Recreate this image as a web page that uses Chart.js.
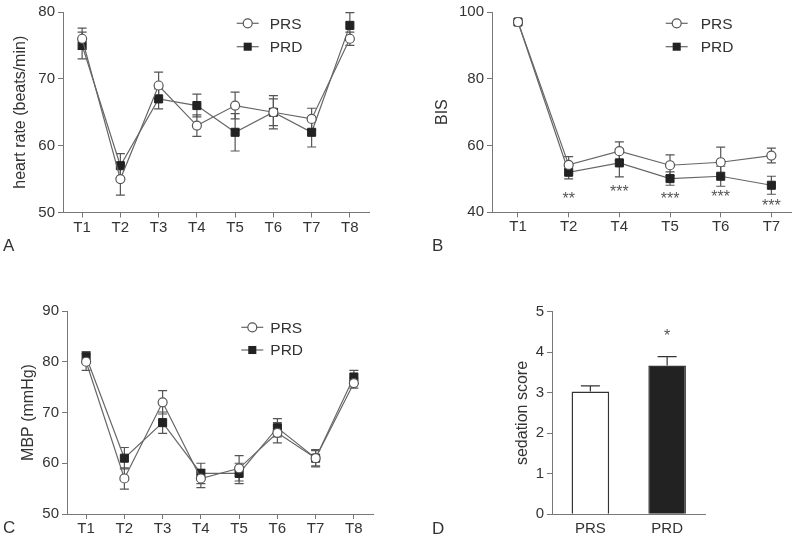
<!DOCTYPE html>
<html>
<head>
<meta charset="utf-8">
<script src="https://cdn.jsdelivr.net/npm/chart.js@4.4.0/dist/chart.umd.min.js"></script>
<style>
html, body { margin: 0; padding: 0; background: #fff; }
#wrap { position: relative; width: 800px; height: 537px; overflow: hidden; }
#wrap canvas { position: absolute; }
.tag { position: absolute; font: 17px 'Liberation Sans', Arial, sans-serif; color: #333; }
</style>
</head>
<body>
<div id="wrap">
  <canvas id="hr" width="400" height="268" style="left:0;top:0"></canvas>
  <canvas id="bis" width="400" height="268" style="left:400px;top:0"></canvas>
  <canvas id="mbp" width="400" height="280" style="left:0;top:268px"></canvas>
  <canvas id="sed" width="400" height="280" style="left:400px;top:268px"></canvas>
  <div class="tag" style="left:3px;top:236px">A</div>
  <div class="tag" style="left:432px;top:236px">B</div>
  <div class="tag" style="left:3px;top:518px">C</div>
  <div class="tag" style="left:432px;top:519px">D</div>
</div>
<script>
// A - heart rate
const hrLabels = ['T1', 'T2', 'T3', 'T4', 'T5', 'T6', 'T7', 'T8'];
const hrPRS = [76, 55, 69, 63, 66, 65, 64, 76];
const hrPRSErr = [1.6, 2.4, 2.0, 1.6, 2.0, 2.5, 1.6, 1.0];
const hrPRD = [75, 57, 67, 66, 62, 65, 62, 78];
const hrPRDErr = [2.0, 1.8, 1.5, 1.7, 2.8, 2.0, 2.2, 1.9];

// B - BIS
const bisLabels = ['T1', 'T2', 'T4', 'T5', 'T6', 'T7'];
const bisPRS = [97, 54.2, 58.3, 54.1, 55, 57];
const bisPRSErr = [0.4, 2.5, 2.8, 3.1, 4.5, 2.2];
const bisPRD = [97, 52, 54.8, 50.1, 50.8, 48.1];
const bisPRDErr = [0.4, 2.0, 4.2, 2.0, 3.0, 2.7];
const bisStars = ['', '**', '***', '***', '***', '***'];
const bisStarY = [null, 44.6, 46.8, 44.6, 45.3, 42.5];

// C - MBP
const mbpLabels = ['T1', 'T2', 'T3', 'T4', 'T5', 'T6', 'T7', 'T8'];
const mbpPRS = [80, 57, 72, 57, 59, 66, 61, 75.8];
const mbpPRSErr = [1.7, 2.1, 2.3, 1.8, 2.5, 2.0, 1.7, 1.0];
const mbpPRD = [81, 61, 68, 58, 58, 67, 61, 77];
const mbpPRDErr = [1.0, 2.1, 2.1, 2.0, 2.0, 1.8, 1.5, 1.3];

// D - sedation score
const sedLabels = ['PRS', 'PRD'];
const sedValues = [3.03, 3.67];
const sedErr = [0.14, 0.22];
const sedStars = ['', '*'];
const sedStarY = [null, 4.47];

const FONT = "'Liberation Sans', Arial, sans-serif";
Chart.defaults.font.family = FONT;
Chart.defaults.font.size = 15;
Chart.defaults.color = '#333';
Chart.defaults.animation = false;

const AXIS = '#777';

const drawMarker = (ctx, ds, x, y) => {
  ctx.save();
  ctx.lineWidth = ds.pointBorderWidth;
  ctx.strokeStyle = ds.pointBorderColor;
  ctx.fillStyle = ds.pointBackgroundColor;
  if (ds.pointStyle === 'rect') {
    const h = ds.pointRadius * Math.SQRT1_2;
    ctx.fillRect(x - h, y - h, 2 * h, 2 * h);
  } else {
    ctx.beginPath();
    ctx.arc(x, y, ds.pointRadius, 0, Math.PI * 2);
    ctx.fill();
    ctx.stroke();
  }
  ctx.restore();
};

const markerLegend = {
  id: 'markerLegend',
  afterDraw(chart, args, o) {
    if (!o.x) return;
    const ctx = chart.ctx;
    chart.data.datasets.forEach((ds, i) => {
      const y = o.y + i * o.gap;
      ctx.save();
      ctx.strokeStyle = ds.borderColor;
      ctx.lineWidth = ds.borderWidth;
      ctx.beginPath();
      ctx.moveTo(o.x - 11, y);
      ctx.lineTo(o.x + 11, y);
      ctx.stroke();
      drawMarker(ctx, ds, o.x, y);
      ctx.fillStyle = '#333';
      ctx.font = '15.5px ' + FONT;
      ctx.textBaseline = 'middle';
      ctx.fillText(ds.label, o.x + 11 + o.textGap, y + 1);
      ctx.restore();
    });
  }
};

const drawErrors = (chart, o) => {
  const ctx = chart.ctx;
  const ys = chart.scales.y;
  chart.data.datasets.forEach((ds, i) => {
    if (!ds.errors) return;
    const meta = chart.getDatasetMeta(i);
    meta.data.forEach((el, j) => {
      const raw = ds.data[j];
      const v = typeof raw === 'object' ? raw.y : raw;
      const e = ds.errors[j];
      const top = ys.getPixelForValue(v + e);
      const bot = o.upOnly ? ys.getPixelForValue(v) : ys.getPixelForValue(v - e);
      ctx.save();
      ctx.strokeStyle = o.color;
      ctx.lineWidth = 1.2;
      ctx.beginPath();
      ctx.moveTo(el.x, top);
      ctx.lineTo(el.x, bot);
      ctx.moveTo(el.x - o.cap, top);
      ctx.lineTo(el.x + o.cap, top);
      if (!o.upOnly) {
        ctx.moveTo(el.x - o.cap, bot);
        ctx.lineTo(el.x + o.cap, bot);
      }
      ctx.stroke();
      ctx.restore();
    });
  });
};

const errorBars = {
  id: 'errorBars',
  beforeDatasetsDraw(chart, args, o) { if (!o.above) drawErrors(chart, o); },
  afterDatasetsDraw(chart, args, o) { if (o.above) drawErrors(chart, o); }
};

const stars = {
  id: 'stars',
  afterDatasetsDraw(chart, args, o) {
    if (!o.text) return;
    const ctx = chart.ctx;
    ctx.save();
    ctx.fillStyle = '#555';
    ctx.font = '16px ' + FONT;
    ctx.textAlign = 'center';
    ctx.textBaseline = 'middle';
    o.text.forEach((t, i) => {
      if (!t) return;
      ctx.fillText(t, chart.scales.x.getPixelForValue(i), chart.scales.y.getPixelForValue(o.y[i]) + 3);
    });
    ctx.restore();
  }
};

const prsStyle = {
  borderColor: '#666', borderWidth: 1.2,
  pointStyle: 'circle', pointRadius: 4.5,
  pointBackgroundColor: '#fff', pointBorderColor: '#555', pointBorderWidth: 1.2,
  tension: 0, fill: false
};
const prdStyle = {
  borderColor: '#666', borderWidth: 1.2,
  pointStyle: 'rect', pointRadius: 5.7,
  pointBackgroundColor: '#222', pointBorderColor: '#222', pointBorderWidth: 1,
  tension: 0, fill: false
};

const yAxis = (min, max, step, title, width, titlePad) => ({
  min: min, max: max,
  ticks: { stepSize: step, padding: 3, color: '#333' },
  grid: { drawOnChartArea: false, tickLength: 5, color: AXIS, lineWidth: 1 },
  border: { color: AXIS, width: 1 },
  title: { display: true, text: title, font: { size: 16 }, color: '#333', padding: { top: titlePad, bottom: 0 } },
  afterFit: (s) => { s.width = width; }
});

const xCat = (height) => ({
  type: 'category',
  offset: true,
  ticks: { padding: 1, color: '#333' },
  grid: { drawOnChartArea: false, tickLength: 5, color: AXIS, offset: false },
  border: { color: AXIS, width: 1 },
  afterFit: (s) => { s.height = height; }
});

const lineChart = (id, labels, prs, prsErr, prd, prdErr, x, y, layout, legend) => {
  new Chart(document.getElementById(id), {
    type: 'line',
    data: {
      labels: labels,
      datasets: [
        Object.assign({ label: 'PRS', data: prs, errors: prsErr }, prsStyle),
        Object.assign({ label: 'PRD', data: prd, errors: prdErr }, prdStyle)
      ]
    },
    options: {
      responsive: false,
      devicePixelRatio: 1,
      layout: { padding: layout },
      scales: { x: x, y: y },
      plugins: {
        legend: { display: false },
        tooltip: { enabled: false },
        markerLegend: legend,
        errorBars: { color: '#555', cap: 4.5 }
      }
    },
    plugins: [markerLegend, errorBars, stars]
  });
};

// A
lineChart('hr', hrLabels, hrPRS, hrPRSErr, hrPRD, hrPRDErr,
  xCat(55.5),
  yAxis(50, 80, 10, 'heart rate (beats/min)', 63, 11),
  { top: 10, right: 31, left: 0, bottom: 0 },
  { x: 247.7, y: 23.3, gap: 23.4, textGap: 11 });

// C
lineChart('mbp', mbpLabels, mbpPRS, mbpPRSErr, mbpPRD, mbpPRDErr,
  xCat(34),
  yAxis(50, 90, 10, 'MBP (mmHg)', 67, 19),
  { top: 43, right: 27, left: 0, bottom: 0 },
  { x: 252.3, y: 59.3, gap: 22.7, textGap: 7 });

// B - linear x so the first/last points sit where they do in the figure
new Chart(document.getElementById('bis'), {
  type: 'line',
  data: {
    datasets: [
      Object.assign({ label: 'PRS', data: bisPRS.map((v, i) => ({ x: i, y: v })), errors: bisPRSErr }, prsStyle),
      Object.assign({ label: 'PRD', data: bisPRD.map((v, i) => ({ x: i, y: v })), errors: bisPRDErr }, prdStyle)
    ]
  },
  options: {
    responsive: false,
    devicePixelRatio: 1,
    layout: { padding: { top: 10, right: 9, left: 0, bottom: 0 } },
    scales: {
      x: {
        type: 'linear', min: -0.513, max: 5.387,
        ticks: { stepSize: 1, includeBounds: false, padding: 1, color: '#333',
          callback: (v) => bisLabels[v] || '' },
        grid: { drawOnChartArea: false, tickLength: 5, color: AXIS },
        border: { color: AXIS, width: 1 },
        afterFit: (s) => { s.height = 55.7; }
      },
      y: yAxis(40, 100, 20, 'BIS', 92, 33)
    },
    plugins: {
      legend: { display: false },
      tooltip: { enabled: false },
      markerLegend: { x: 276.7, y: 23.3, gap: 23.4, textGap: 13 },
      errorBars: { color: '#555', cap: 4.5 },
      stars: { text: bisStars, y: bisStarY }
    }
  },
  plugins: [markerLegend, errorBars, stars]
});

// D
new Chart(document.getElementById('sed'), {
  type: 'bar',
  data: {
    labels: sedLabels,
    datasets: [{
      label: 'sedation score',
      data: sedValues,
      errors: sedErr,
      backgroundColor: ['#fff', '#222'],
      borderColor: '#333',
      borderWidth: 1.5,
      barPercentage: 0.49,
      categoryPercentage: 1
    }]
  },
  options: {
    responsive: false,
    devicePixelRatio: 1,
    layout: { padding: { top: 43.7, right: 94.5, left: 0, bottom: 0 } },
    scales: {
      x: {
        ticks: { padding: 1, color: '#333' },
        grid: { display: false, drawTicks: true, tickLength: 5 },
        border: { color: AXIS, width: 1 },
        afterFit: (s) => { s.height = 33.7; }
      },
      y: yAxis(0, 5, 1, 'sedation score', 152, 113)
    },
    plugins: {
      legend: { display: false },
      tooltip: { enabled: false },
      errorBars: { color: '#333', cap: 9.5, upOnly: true, above: true },
      stars: { text: sedStars, y: sedStarY }
    }
  },
  plugins: [errorBars, stars]
});
</script>
</body>
</html>
